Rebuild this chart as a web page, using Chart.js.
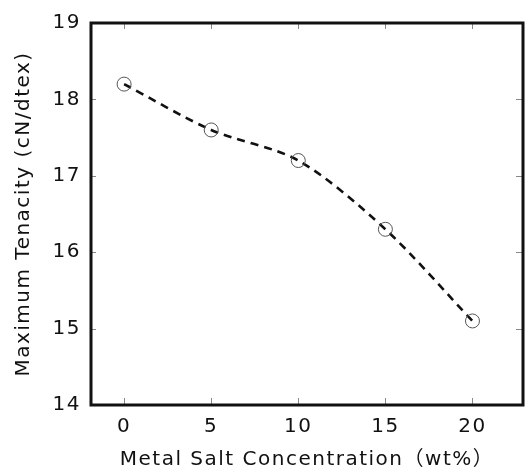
<!DOCTYPE html>
<html>
<head>
<meta charset="utf-8">
<script src="https://cdn.jsdelivr.net/npm/chart.js@4"></script>
<style>
  html, body { margin: 0; padding: 0; background: #fff; }
  #wrap { width: 526px; height: 476px; }
</style>
</head>
<body>
<div id="wrap"><canvas id="plot-area"></canvas></div>
<script>
const concentration = [0, 5, 10, 15, 20];
const tenacity = [18.2, 17.6, 17.2, 16.3, 15.1];
const xTicks = [0, 5, 10, 15, 20];
const yTicks = [14, 15, 16, 17, 18, 19];

const FONT = "'DejaVu Sans', 'Noto Sans CJK JP', sans-serif";

function points() {
  return concentration.map((c, i) => ({ x: c, y: tenacity[i] }));
}

// frame + inward tick marks, slightly wider letters like the original
const framePlugin = {
  id: "frame",
  beforeLayout(chart) { chart.ctx.letterSpacing = "1.5px"; },
  beforeDraw(chart) { chart.ctx.letterSpacing = "1.5px"; },
  afterDraw(chart) {
    const ctx = chart.ctx;
    const a = chart.chartArea;
    const xs = chart.scales.x, ys = chart.scales.y;
    ctx.save();
    ctx.strokeStyle = "#888";
    ctx.lineWidth = 1;
    xTicks.forEach(v => {
      const px = Math.round(xs.getPixelForValue(v)) + 0.5;
      ctx.beginPath();
      ctx.moveTo(px, a.bottom); ctx.lineTo(px, a.bottom - 7);
      ctx.moveTo(px, a.top); ctx.lineTo(px, a.top + 6);
      ctx.stroke();
    });
    yTicks.forEach(v => {
      const py = Math.round(ys.getPixelForValue(v)) + 0.5;
      ctx.beginPath();
      ctx.moveTo(a.left, py); ctx.lineTo(a.left + 5, py);
      ctx.moveTo(a.right, py); ctx.lineTo(a.right - 7, py);
      ctx.stroke();
    });
    ctx.strokeStyle = "#111";
    ctx.lineWidth = 3;
    ctx.strokeRect(a.left, a.top, a.right - a.left, a.bottom - a.top);
    ctx.restore();
  }
};

const config = {
  type: "scatter",
  data: {
    datasets: [
      {
        type: "line",
        data: points(),
        borderColor: "#111",
        borderWidth: 2.6,
        borderDash: [8, 6],
        tension: 0.3,
        pointRadius: 0,
        fill: false,
        order: 2,
      },
      {
        data: points(),
        pointStyle: "circle",
        pointRadius: 7,
        pointBorderWidth: 1,
        pointBorderColor: "#555",
        pointBackgroundColor: "rgba(255,255,255,0)",
        order: 1,
      },
    ],
  },
  options: {
    responsive: true,
    maintainAspectRatio: false,
    animation: false,
    layout: { autoPadding: false, padding: { top: 23, right: 3, left: 0, bottom: 0 } },
    plugins: { legend: { display: false }, tooltip: { enabled: false } },
    scales: {
      x: {
        type: "linear",
        min: -1.9,
        max: 22.9,
        afterBuildTicks(scale) { scale.ticks = xTicks.map(v => ({ value: v })); },
        afterFit(scale) {
          scale.height = 71;
          scale.paddingLeft = 0;
          scale.paddingRight = 0;
        },
        grid: { display: false, drawTicks: false },
        border: { display: false },
        ticks: { color: "#111", padding: 10, font: { family: FONT, size: 20 } },
        title: {
          display: true,
          text: "Metal Salt Concentration（wt%）",
          color: "#111",
          padding: { top: 8 },
          font: { family: FONT, size: 20 },
        },
      },
      y: {
        min: 14,
        max: 19,
        afterBuildTicks(scale) { scale.ticks = yTicks.map(v => ({ value: v })); },
        afterFit(scale) {
          scale.width = 91;
          scale.paddingTop = 0;
          scale.paddingBottom = 0;
        },
        grid: { display: false, drawTicks: false },
        border: { display: false },
        ticks: { color: "#111", padding: 10, font: { family: FONT, size: 20 } },
        title: {
          display: true,
          text: "Maximum Tenacity (cN/dtex)",
          color: "#111",
          padding: { top: 12, bottom: 0 },
          font: { family: FONT, size: 20 },
        },
      },
    },
  },
  plugins: [framePlugin],
};

new Chart(document.getElementById("plot-area").getContext("2d"), config);
</script>
</body>
</html>
